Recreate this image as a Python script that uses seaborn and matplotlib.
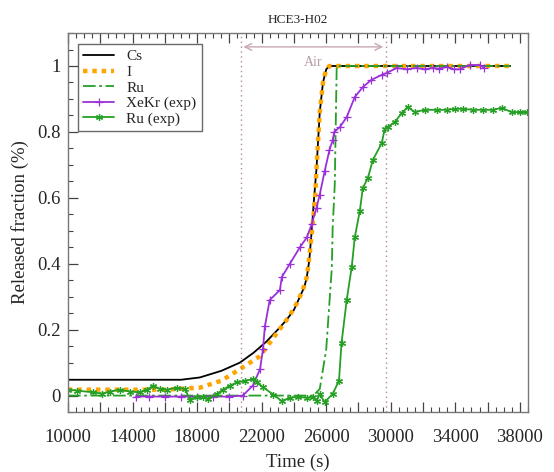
import numpy as np
import pandas as pd
import matplotlib
matplotlib.use("Agg")
import matplotlib.pyplot as plt
import seaborn as sns
from matplotlib.ticker import MultipleLocator

# --- data (time in s, released fraction) ---
cs_t = [10000, 17000, 18170, 19500, 20650, 21500, 22300, 23000, 23550, 24000, 24370,
        24650, 24800, 24950, 25100, 25250, 25400, 25600, 25800, 26000, 26200, 37400]
cs_v = [0.048, 0.048, 0.055, 0.075, 0.10, 0.13, 0.164, 0.20, 0.23, 0.26, 0.30,
        0.33, 0.36, 0.41, 0.50, 0.60, 0.69, 0.86, 0.95, 0.99, 1.0, 1.0]

i_t = [10000, 16000, 18170, 19500, 20650, 21900, 23100, 23700, 24180, 24550, 24800,
       25000, 25100, 25300, 25400, 25600, 25800, 26000, 26200, 37400]
i_v = [0.018, 0.018, 0.024, 0.045, 0.08, 0.12, 0.20, 0.24, 0.28, 0.32, 0.36,
       0.44, 0.49, 0.59, 0.69, 0.86, 0.95, 0.99, 1.0, 1.0]

ru_t = [10000, 25200, 25600, 26000, 26350, 26400, 26530, 26650, 37400]
ru_v = [0.0, 0.0, 0.02, 0.14, 0.39, 0.51, 0.64, 1.0, 1.0]

xekr_t = [14200, 15000, 16000, 17000, 18000, 19000, 20000, 20830, 21450, 21900, 22080,
          22200, 22500, 23130, 23250, 23750, 24370, 24800, 25100, 25400, 25600, 25900,
          26200, 26400, 26500, 26850, 27270, 27770, 28270, 28800, 29440, 29750, 30370,
          30990, 31600, 32100, 32600, 33000, 33460, 33900, 34270, 34890, 35500, 35800]
xekr_v = [-0.003, -0.003, -0.003, -0.003, -0.003, -0.003, -0.003, 0.0, 0.03, 0.08, 0.14,
          0.21, 0.29, 0.32, 0.36, 0.40, 0.45, 0.48, 0.52, 0.57, 0.61, 0.68,
          0.745, 0.775, 0.80, 0.815, 0.845, 0.906, 0.936, 0.958, 0.973, 0.979, 0.994,
          0.99, 0.994, 0.99, 0.994, 0.992, 0.997, 0.99, 0.99, 1.003, 1.003, 0.994]

ruexp_t = [10000, 10550, 11550, 12100, 12600, 13200, 13840, 14460, 14900, 15270, 15700,
           16130, 16750, 17250, 17550, 17980, 18360, 18670, 19230, 19600, 20030, 20470,
           20960, 21480, 21690, 22100, 22720, 23230, 23770, 24260, 24790, 25200, 25400,
           25600, 25900, 26400, 26790, 26950, 27270, 27580, 27770, 28080, 28270, 28580,
           28890, 29440, 29630, 29810, 30250, 30680, 31050, 31490, 32100, 32850, 33460,
           33960, 34460, 35080, 35700, 36320, 36870, 37490, 37990, 38420]
ruexp_v = [0.018, 0.015, 0.01, 0.006, 0.012, 0.018, 0.012, 0.01, 0.018, 0.03, 0.02,
           0.018, 0.024, 0.02, -0.012, -0.003, -0.003, -0.01, 0.005, 0.018, 0.03, 0.04,
           0.045, 0.05, 0.04, 0.025, 0.003, -0.016, -0.007, -0.003, -0.007, -0.003, -0.016,
           0.005, -0.02, 0.005, 0.045, 0.16, 0.29, 0.39, 0.48, 0.56, 0.63, 0.66,
           0.715, 0.766, 0.81, 0.815, 0.83, 0.857, 0.876, 0.86, 0.867, 0.867, 0.867,
           0.87, 0.87, 0.867, 0.867, 0.867, 0.873, 0.86, 0.86, 0.86]

x_ticks = list(range(10000, 38001, 2000))
x_labels = [str(t) if (t - 10000) % 4000 == 0 else "" for t in x_ticks]
y_ticks = [0, 0.2, 0.4, 0.6, 0.8, 1.0]
y_labels = ["0", "0.2", "0.4", "0.6", "0.8", "1"]

air_start, air_end = 20700, 29700

sns.set_theme(style="white")
plt.rcParams['font.family'] = ['Liberation Serif', 'DejaVu Serif']

fig = plt.figure(figsize=(5.54, 4.72), dpi=100)
ax = fig.add_axes([0.1227, 0.127, 0.8303, 0.803])

green = '#25a025'
purple = '#9b30d9'
orange = '#ffa500'

sns.lineplot(x=cs_t, y=cs_v, color='black', lw=1.3, ax=ax, label='Cs')
sns.lineplot(x=i_t, y=i_v, color=orange, lw=3.2, ax=ax, label='I',
             linestyle=(0, (1, 1.1)), dash_capstyle='butt')
sns.lineplot(x=ru_t, y=ru_v, color=green, lw=1.3, ax=ax, label='Ru',
             linestyle=(0, (7, 2, 1.5, 2)))
sns.lineplot(x=xekr_t, y=xekr_v, color=purple, lw=1.3, ax=ax, label='XeKr (exp)',
             marker='+', markersize=5.5, markeredgewidth=0.9, markeredgecolor=purple)
sns.lineplot(x=ruexp_t, y=ruexp_v, color=green, lw=1.3, ax=ax, label='Ru (exp)',
             marker=(6, 2, 0), markersize=5, markeredgewidth=0.9, markeredgecolor=green)

# air period
for xv in (air_start, air_end):
    ax.axvline(xv, color='#b08a90', lw=1.0, linestyle=(0, (1, 2.5)))
ax.annotate('', xy=(air_start, 1.058), xytext=(air_end, 1.058),
            arrowprops=dict(arrowstyle='<->', color='#c8a8b0', lw=1.0))
ax.text(25200, 1.012, 'Air', color='#b89ca2', fontsize=10, ha='center', va='center')

ax.set_xlim(10000, 38500)
ax.set_ylim(-0.05, 1.1)
ax.set_xticks(x_ticks)
ax.set_xticklabels(x_labels)
ax.set_yticks(y_ticks)
ax.set_yticklabels(y_labels)
ax.xaxis.set_minor_locator(MultipleLocator(500))
ax.yaxis.set_minor_locator(MultipleLocator(0.05))
ax.tick_params(which='both', direction='in', top=True, bottom=True, left=True, right=False,
               labelsize=13.5, color='#444444')
ax.tick_params(which='major', length=7, width=0.9)
ax.tick_params(which='minor', length=3.5, width=0.8)
ax.tick_params(axis='x', which='major', pad=12)
ax.tick_params(axis='y', which='major', pad=5)
for s in ax.spines.values():
    s.set_color('#777777')
    s.set_linewidth(1.0)

ax.set_xlabel('Time (s)', fontsize=13.5, labelpad=6)
ax.set_ylabel('Released fraction (%)', fontsize=13.5, labelpad=6)
ax.set_title('HCE3-H02', fontsize=9.5, pad=7)

leg = ax.legend(loc='upper left', bbox_to_anchor=(0.022, 0.97), fontsize=11,
                frameon=True, fancybox=False, edgecolor='#444444', handlelength=2.0,
                borderpad=0.35, labelspacing=0.12, handletextpad=0.8, borderaxespad=0)
leg.get_frame().set_linewidth(1.0)

fig.savefig('out.png', dpi=100)
